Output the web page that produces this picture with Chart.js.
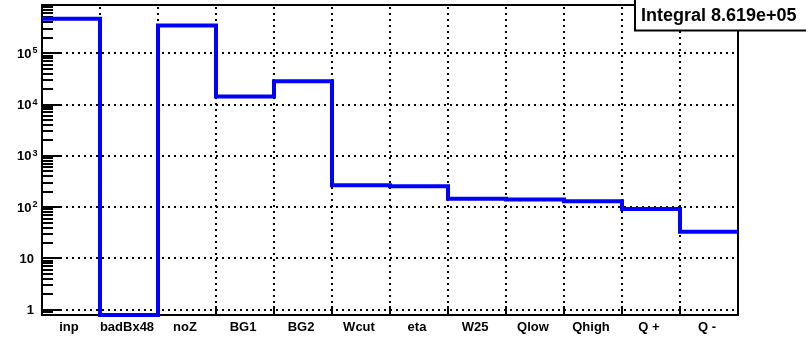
<!DOCTYPE html>
<html>
<head>
<meta charset="utf-8">
<script src="https://cdn.jsdelivr.net/npm/chart.js@4.4.1/dist/chart.umd.min.js"></script>
<style>
  body { margin: 0; background: #fff; }
  #wrap { width: 806px; height: 338px; }
</style>
</head>
<body>
<div id="wrap"><canvas id="mainChart"></canvas></div>
<script>
const binLabels = ['inp', 'badBx48', 'noZ', 'BG1', 'BG2', 'Wcut', 'eta', 'W25', 'Qlow', 'Qhigh', 'Q +', 'Q -'];
const binCounts = [470000, 0, 348000, 14300, 28300, 267, 255, 146, 141, 130, 92, 33];
const yTickValues = [1, 10, 100, 1000, 10000, 100000];
const yTickExponents = [null, null, 2, 3, 4, 5];
const integralText = 'Integral 8.619e+05';

const yMin = 0.79;
const yMax = 8.7e5;

// histogram as step points: one point per bin low edge, plus the last upper edge
var stepPoints = [];
for (let i = 0; i < binCounts.length; i++) {
    stepPoints.push({x: i, y: binCounts[i] > 0 ? binCounts[i] : yMin});
}
stepPoints.push({x: binCounts.length, y: stepPoints[stepPoints.length - 1].y});

const bold = '"Liberation Sans", Arial, Helvetica, sans-serif';

const rootFrame = {
    id: 'rootFrame',
    beforeDatasetsDraw(chart) {
        const c = chart.ctx;
        const a = chart.chartArea;
        const xs = chart.scales.x;
        const ys = chart.scales.y;
        c.save();

        // dotted grid
        c.strokeStyle = '#000';
        c.lineWidth = 2;
        c.setLineDash([2, 4]);
        for (let i = 1; i < binLabels.length; i++) {
            const px = Math.round(xs.getPixelForValue(i));
            c.beginPath();
            c.moveTo(px, a.bottom);
            c.lineTo(px, a.top);
            c.stroke();
        }
        yTickValues.forEach(v => {
            const py = Math.round(ys.getPixelForValue(v));
            c.beginPath();
            c.moveTo(a.left, py);
            c.lineTo(a.right, py);
            c.stroke();
        });
        c.setLineDash([]);

        // frame
        c.lineWidth = 2;
        c.strokeStyle = '#000';
        c.strokeRect(a.left, a.top, a.right - a.left, a.bottom - a.top);

        // y ticks, major + minor (log)
        for (let d = -1; d <= 5; d++) {
            for (let m = 1; m <= 9; m++) {
                const v = m * Math.pow(10, d);
                if (v < yMin || v > yMax) continue;
                const py = Math.round(ys.getPixelForValue(v));
                const len = m === 1 ? 20 : 11;
                c.beginPath();
                c.moveTo(a.left, py);
                c.lineTo(a.left + len, py);
                c.stroke();
            }
        }
        // x ticks at bin edges
        for (let i = 1; i < binLabels.length; i++) {
            const px = Math.round(xs.getPixelForValue(i));
            c.beginPath();
            c.moveTo(px, a.bottom);
            c.lineTo(px, a.bottom - 9);
            c.stroke();
        }

        // y labels
        c.fillStyle = '#000';
        yTickValues.forEach((v, i) => {
            const py = ys.getPixelForValue(v);
            const ex = yTickExponents[i];
            c.font = 'bold 13px ' + bold;
            c.textBaseline = 'middle';
            c.textAlign = 'right';
            if (ex === null) {
                c.fillText(String(v), 34, py + 1);
            } else {
                c.fillText('10', 31.5, py + 1);
                c.font = 'bold 9px ' + bold;
                c.textAlign = 'left';
                c.textBaseline = 'alphabetic';
                c.fillText(String(ex), 32.5, py);
            }
        });

        // x labels
        c.font = 'bold 13px ' + bold;
        c.textAlign = 'center';
        c.textBaseline = 'alphabetic';
        binLabels.forEach((lab, i) => {
            c.fillText(lab, xs.getPixelForValue(i + 0.5) - 2, 331);
        });
        c.restore();
    },
    afterDraw(chart) {
        const c = chart.ctx;
        c.save();
        c.fillStyle = '#fff';
        c.fillRect(635, -2, 200, 32.5);
        c.strokeStyle = '#000';
        c.lineWidth = 2;
        c.strokeRect(635, -2, 200, 32.5);
        c.fillStyle = '#000';
        c.font = 'bold 18px ' + bold;
        c.textAlign = 'left';
        c.textBaseline = 'alphabetic';
        c.fillText(integralText, 641, 21);
        c.restore();
    }
};

const ctx = document.getElementById('mainChart');
new Chart(ctx, {
    type: 'line',
    data: {
        datasets: [
            {
            data: stepPoints,
            borderColor: '#0000ff',
            borderWidth: 4,
            stepped: true,
            pointRadius: 0,
            fill: false,
            clip: false
            }
        ]
    },
    options: {
        responsive: true,
        maintainAspectRatio: false,
        animation: false,
        events: [],
        layout: {
            padding: {left: 42, right: 68, top: 5, bottom: 23}
        },
        scales: {
            x: {
                type: 'linear',
                min: 0,
                max: binLabels.length,
                display: false
            },
            y: {
                type: 'logarithmic',
                min: yMin,
                max: yMax,
                display: false
            }
        },
        plugins: {
            legend: {display: false},
            title: {display: false},
            tooltip: {enabled: false}
        }
    },
    plugins: [rootFrame]
});
</script>
</body>
</html>
